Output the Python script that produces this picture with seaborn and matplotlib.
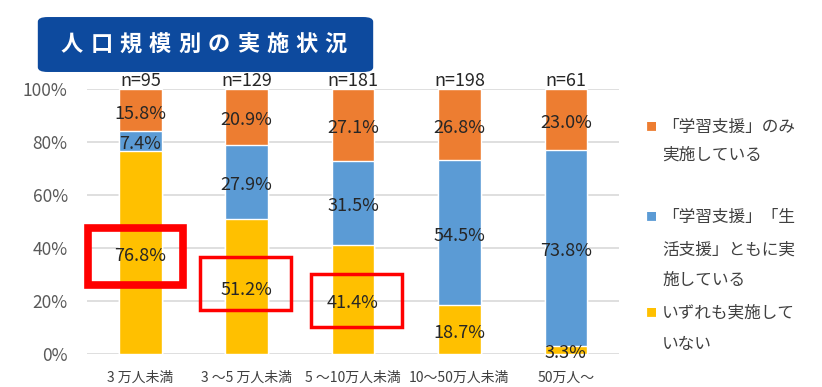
import seaborn as sns
import pandas as pd
import matplotlib.pyplot as plt
from matplotlib.patches import FancyBboxPatch, Rectangle

# データ
categories = ["3 万人未満", "3 ～5 万人未満", "5 ～10万人未満", "10～50万人未満", "50万人～"]
n_counts = [95, 129, 181, 198, 61]
none_pct = [76.8, 51.2, 41.4, 18.7, 3.3]
both_pct = [7.4, 27.9, 31.5, 54.5, 73.8]
study_pct = [15.8, 20.9, 27.1, 26.8, 23.0]
legend_lines = [["「学習支援」のみ", "実施している"],
                ["「学習支援」「生", "活支援」ともに実", "施している"],
                ["いずれも実施して", "いない"]]
title = "人口規模別の実施状況"

c_study = "#ED7D31"
c_both = "#5B9BD5"
c_none = "#FFC000"

sns.set_style("white")
plt.rcParams['font.family'] = ['Noto Sans CJK JP', 'DejaVu Sans']

df = pd.DataFrame({"cat": categories, "none": none_pct, "both": both_pct, "study": study_pct})
df["cum_both"] = df["none"] + df["both"]
df["cum_study"] = df["cum_both"] + df["study"]

fig = plt.figure(figsize=(8.22, 3.87), dpi=100)
ax = fig.add_axes([0.106, 0.084, 0.647, 0.685])

# 積み上げ棒グラフ（後ろから順に描く）
sns.barplot(data=df, x="cat", y="cum_study", color=c_study, width=0.40, saturation=1, ax=ax, zorder=2)
sns.barplot(data=df, x="cat", y="cum_both", color=c_both, width=0.40, saturation=1, ax=ax, zorder=3)
sns.barplot(data=df, x="cat", y="none", color=c_none, width=0.40, saturation=1, ax=ax, zorder=4)

ax.set_ylim(0, 100)
ax.set_yticks(range(0, 101, 20))
ax.set_yticklabels([f"{v}%" for v in range(0, 101, 20)], color="#595959", fontsize=12.5)
ax.tick_params(axis="y", length=0, pad=14)
ax.tick_params(axis="x", length=0, pad=12, labelsize=10, labelcolor="#404040")
ax.yaxis.grid(True, color="#D9D9D9", linewidth=1.2, zorder=0)
ax.set_axisbelow(True)
ax.set_xlabel("")
ax.set_ylabel("")
for s in ax.spines.values():
    s.set_visible(False)

# データラベル
fs = 13
for i in range(len(categories)):
    lo = none_pct[i]
    mid = lo + both_pct[i]
    ax.text(i, lo / 2 - 1.2, f"{lo:.1f}%", ha="center", va="center", fontsize=fs, zorder=6)
    ax.text(i, lo + both_pct[i] / 2 - 1.2, f"{both_pct[i]:.1f}%", ha="center", va="center", fontsize=fs, zorder=6)
    ax.text(i, mid + study_pct[i] / 2 - 1.2, f"{study_pct[i]:.1f}%", ha="center", va="center", fontsize=fs, zorder=6)
    ax.text(i, 99.6, f"n={n_counts[i]}", ha="center", va="bottom", fontsize=fs, zorder=6, clip_on=False)

# 赤枠 (カテゴリ, x方向のずれ, 中心y, 幅, 高さ, 線幅)
boxes = [(0, -0.047, 37.0, 0.89, 21.5, 5.5),
         (1, -0.010, 26.8, 0.86, 20.0, 2.5),
         (2, 0.033, 20.4, 0.85, 20.0, 2.5)]
for i, dx, cy, w, h, lw in boxes:
    ax.add_patch(Rectangle((i + dx - w / 2, cy - h / 2), w, h,
                           fill=False, edgecolor="#FF0000", linewidth=lw, zorder=7, clip_on=False))

# タイトル
fig.patches.append(FancyBboxPatch((0.046, 0.814), 0.408, 0.142, transform=fig.transFigure,
                                  boxstyle="round,pad=0,rounding_size=0.012",
                                  facecolor="#0D4A9E", edgecolor="none"))
step = 29.3 / 822
x0 = 72.0 / 822
for k, ch in enumerate(title):
    fig.text(x0 + k * step, 0.884, ch, color="white", fontsize=16,
             fontweight="bold", ha="center", va="center")

# 凡例
leg_colors = [c_study, c_both, c_none]
leg_y = [[127, 155], [217, 250, 280], [313, 345]]
for lines, col, ys in zip(legend_lines, leg_colors, leg_y):
    fig.text(651 / 822, 1 - ys[0] / 387, "■", color=col, fontsize=8, ha="center", va="center")
    for txt, y in zip(lines, ys):
        fig.text(662 / 822, 1 - y / 387, txt, color="#404040", fontsize=12, ha="left", va="center")

fig.savefig("out.png", dpi=100)
